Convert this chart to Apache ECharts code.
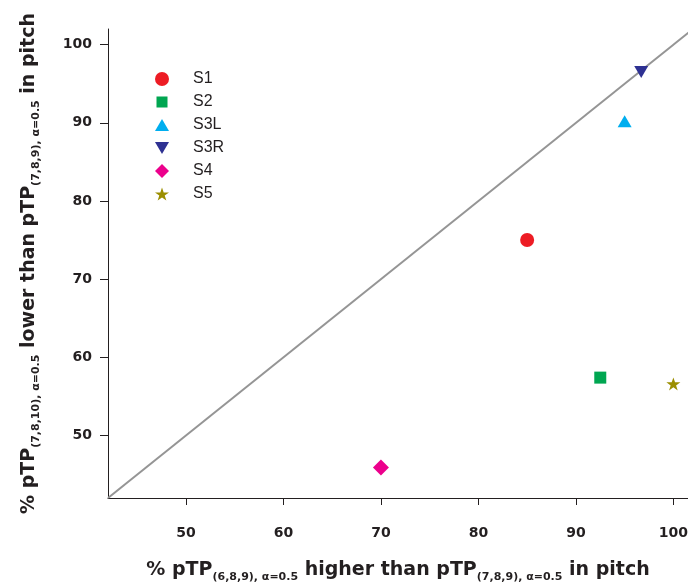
<!DOCTYPE html>
<html><head><meta charset="utf-8">
<script src="https://cdn.jsdelivr.net/npm/echarts@6/dist/echarts.min.js"></script>
<style>html,body{margin:0;padding:0;background:#fff}#c{width:688px;height:586px}</style>
</head><body><div id="c"></div>
<script>
var seriesNames = ['S1','S2','S3L','S3R','S4','S5'];
var xValues = [85, 92.5, 95, 96.7, 70, 100];
var yValues = [75, 57.4, 90.2, 96.5, 45.9, 56.6];
var colors = ['#ED1C24','#00A651','#00AEEF','#2E3192','#EC008C','#9B8E00'];
var symbols = ['circle','rect','triangle','path://M0,0 L10,0 L5,9 Z','diamond',
  'path://M50,0 L61.8,35.3 L99,35.3 L69,57.3 L80.3,92.7 L50,70.9 L19.7,92.7 L31,57.3 L1,35.3 L38.2,35.3 Z'];
var symbolSizes = [14, 12, [14,12], [14,12], 16, [14,13]];
var tickValues = [50, 60, 70, 80, 90, 100];
var diagonal = [[42, 42], [102, 102]];

var chart = echarts.init(document.getElementById('c'), null, {renderer:'canvas'});
var FB = '"DejaVu Sans", sans-serif';
var FA = '"Liberation Sans", Arial, sans-serif';
var rich = {
  b: {fontSize: 19, fontWeight: 'bold', fontFamily: FB, color: '#231F20'},
  s: {fontSize: 11, fontWeight: 'bold', fontFamily: FB, color: '#231F20', padding: [14,0,0,0]}
};
var legendIcons = {
  S2: 'path://M0,0 L0.01,0 Z M1.5,1.5 L12.5,1.5 L12.5,12.5 L1.5,12.5 Z M14,14 L13.99,14 Z',
  S3L: 'path://M0,13 L7,1 L14,13 Z',
  S3R: 'path://M0,1 L14,1 L7,13 Z',
  S4: 'diamond'
};
var series = [{
  type: 'line', data: diagonal, showSymbol: false, symbol: 'none', silent: true,
  lineStyle: {color: '#959595', width: 2}, z: 1, legendHoverLink: false
}];
seriesNames.forEach(function(n, i){
  series.push({
    name: n, type: 'scatter', data: [[xValues[i], yValues[i]]],
    symbol: symbols[i], symbolSize: symbolSizes[i],
    itemStyle: {color: colors[i], opacity: 1}, z: 3
  });
});
chart.setOption({
  animation: false,
  grid: {left: 108, right: 0, top: 29, bottom: 88, outerBoundsMode: 'none', containLabel: false},
  legend: {
    data: seriesNames.map(function(n){ return legendIcons[n] ? {name: n, icon: legendIcons[n]} : {name: n}; }),
    orient: 'vertical', left: 150, top: 66,
    itemWidth: 14, itemHeight: 14, itemGap: 7,
    textStyle: {fontSize: 16, lineHeight: 16, fontFamily: FA, color: '#231F20', padding: [0,0,0,19]}
  },
  xAxis: {
    type: 'value', min: 42, max: 101.5,
    axisLine: {show: true, lineStyle: {color: '#231F20', width: 1}},
    axisTick: {show: true, customValues: tickValues, length: 7, lineStyle: {color: '#231F20'}},
    axisLabel: {customValues: tickValues, fontSize: 14, fontWeight: 'bold', fontFamily: FB, color: '#231F20', margin: 28},
    splitLine: {show: false},
    name: '{b|% pTP}{s|(6,8,9), α=0.5}{b| higher than pTP}{s|(7,8,9), α=0.5}{b| in pitch}',
    nameLocation: 'middle', nameGap: 60,
    nameTextStyle: {rich: rich}
  },
  yAxis: {
    type: 'value', min: 42, max: 102,
    axisLine: {show: true, lineStyle: {color: '#231F20', width: 1}},
    axisTick: {show: true, customValues: tickValues, length: 8, lineStyle: {color: '#231F20'}},
    axisLabel: {customValues: tickValues, fontSize: 14, fontWeight: 'bold', fontFamily: FB, color: '#231F20', margin: 16},
    splitLine: {show: false},
    name: '{b|% pTP}{s|(7,8,10), α=0.5}{b| lower than pTP}{s|(7,8,9), α=0.5}{b| in pitch}',
    nameLocation: 'middle', nameGap: 66,
    nameTextStyle: {rich: rich}
  },
  series: series
});
</script></body></html>
